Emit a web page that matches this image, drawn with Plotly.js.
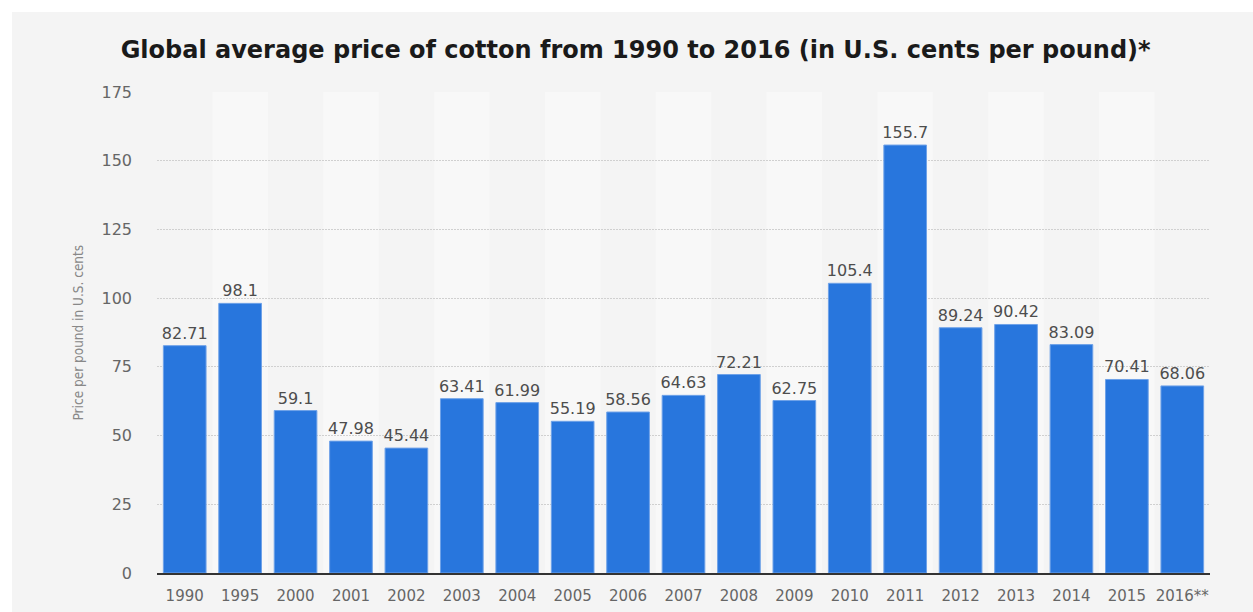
<!DOCTYPE html>
<html>
<head>
<meta charset="utf-8">
<script src="https://cdn.plot.ly/plotly-3.0.1.min.js"></script>
<style>
  html, body { margin: 0; padding: 0; background: #ffffff; }
  #chart { position: absolute; left: 12px; top: 12px; width: 1241px; height: 600px; }
</style>
</head>
<body>
<div id="chart"></div>
<script>
const years = ["1990","1995","2000","2001","2002","2003","2004","2005","2006","2007","2008","2009","2010","2011","2012","2013","2014","2015","2016**"];
const prices = [82.71, 98.1, 59.1, 47.98, 45.44, 63.41, 61.99, 55.19, 58.56, 64.63, 72.21, 62.75, 105.4, 155.7, 89.24, 90.42, 83.09, 70.41, 68.06];
const yTicks = [0, 25, 50, 75, 100, 125, 150, 175];

const FONT = "DejaVu Sans, Verdana, sans-serif";

const bands = [];
years.forEach((y, i) => {
  if (i % 2 === 1) {
    bands.push({
      type: "rect", layer: "below",
      xref: "x", yref: "paper",
      x0: i - 0.5, x1: i + 0.5, y0: 0, y1: 1,
      fillcolor: "#f8f8f8", line: { width: 0 }
    });
  }
});

const trace = {
  type: "bar",
  x: years,
  y: prices,
  width: 0.77,
  marker: { color: "#2876dd", line: { color: "#6fa2e8", width: 1 } },
  text: prices.map(v => String(v)),
  textposition: "outside",
  constraintext: "none",
  cliponaxis: false,
  textfont: { family: FONT, size: 16, color: "#4d4d4d" },
  hoverinfo: "x+y"
};

const layout = {
  width: 1241, height: 600,
  paper_bgcolor: "#f4f4f4",
  plot_bgcolor: "#f4f4f4",
  margin: { l: 145, r: 43, t: 80, b: 39 },
  showlegend: false,
  title: {
    text: "<b>Global average price of cotton from 1990 to 2016 (in U.S. cents per pound)*</b>",
    font: { family: FONT, size: 24, color: "#1a1a1a" },
    xref: "container", x: 0.5025, xanchor: "center",
    yref: "container", y: 0.937, yanchor: "middle"
  },
  xaxis: {
    type: "category",
    tickvals: years, ticktext: years,
    showgrid: false,
    showline: true, linecolor: "#333333", linewidth: 2,
    ticks: "", ticklabelstandoff: 8,
    tickfont: { family: FONT, size: 15, color: "#666666" },
    fixedrange: true
  },
  yaxis: {
    range: [0, 175],
    tickvals: yTicks,
    showgrid: true, gridcolor: "#d0d0d0", gridwidth: 1, griddash: "2px,1px",
    zeroline: false, showline: false,
    ticks: "", ticklabelstandoff: 24,
    tickfont: { family: FONT, size: 16, color: "#666666" },
    fixedrange: true
  },
  shapes: bands,
  annotations: [{
    text: "Price per pound in U.S. cents",
    textangle: -90,
    xref: "paper", yref: "paper", x: 0, y: 0.5,
    xanchor: "center", yanchor: "middle",
    xshift: -80, showarrow: false,
    font: { family: "DejaVu Sans Condensed, DejaVu Sans, sans-serif", size: 13.5, color: "#888888" }
  }]
};

Plotly.newPlot("chart", [trace], layout, { displayModeBar: false, staticPlot: true });
</script>
</body>
</html>
